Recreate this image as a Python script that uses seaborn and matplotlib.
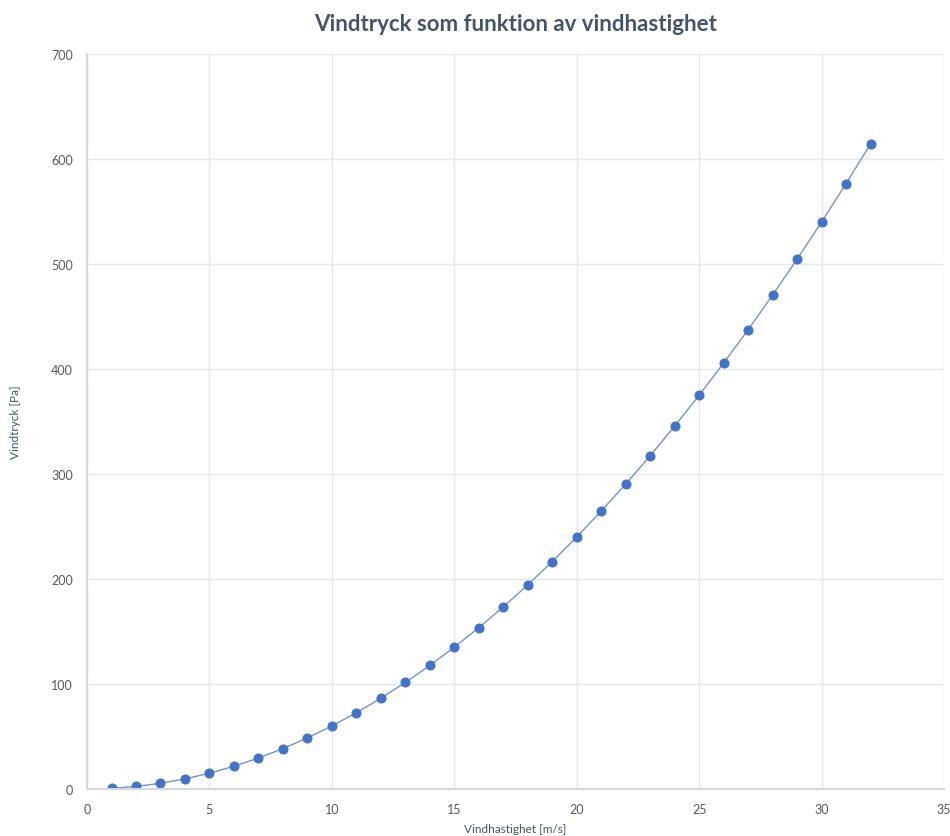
import matplotlib
matplotlib.use("Agg")
import matplotlib.pyplot as plt
import seaborn as sns

# vindhastighet [m/s] och vindtryck [Pa]
vind_hast = [1, 2, 3, 4, 5, 6, 7, 8, 9, 10, 11, 12, 13, 14, 15, 16,
             17, 18, 19, 20, 21, 22, 23, 24, 25, 26, 27, 28, 29, 30, 31, 32]
vind_tryck = [0.6, 2.4, 5.4, 9.6, 15, 21.6, 29.4, 38.4, 48.6, 60, 72.6, 86.4,
              101.4, 117.6, 135, 153.6, 173.4, 194.4, 216.6, 240, 264.6, 290.4,
              317.4, 345.6, 375, 405.6, 437.4, 470.4, 504.6, 540, 576.6, 614.4]

x_ticks = [0, 5, 10, 15, 20, 25, 30, 35]
y_ticks = [0, 100, 200, 300, 400, 500, 600, 700]

sns.set_theme(style="whitegrid")
plt.rcParams['font.family'] = ['Lato', 'DejaVu Sans']

fig = plt.figure(figsize=(9.5, 8.37), dpi=100)
ax = fig.add_axes([0.0916, 0.0562, 0.9021, 0.8781])

sns.lineplot(x=vind_hast, y=vind_tryck, ax=ax, color="#6f93d6", linewidth=1.0,
             marker="o", markersize=6.5, markerfacecolor="#4472c4",
             markeredgecolor="#4472c4")

ax.set_xlim(0, 35)
ax.set_ylim(0, 700)
ax.set_xticks(x_ticks)
ax.set_yticks(y_ticks)
ax.grid(True, color="#e4e8ef", linewidth=1.0)
for side in ["top", "right"]:
    ax.spines[side].set_visible(False)
for side in ["left", "bottom"]:
    ax.spines[side].set_color("#d3d9e3")
    ax.spines[side].set_linewidth(1.5)
ax.tick_params(axis="both", length=0, labelsize=9, labelcolor="#595959", pad=10)

ax.set_xlabel("Vindhastighet [m/s]", fontsize=8.5, color="#44546a", labelpad=6)
ax.set_ylabel("Vindtryck [Pa]", fontsize=8.5, color="#44546a", labelpad=22)
fig.suptitle("Vindtryck som funktion av vindhastighet", x=0.543, y=0.983,
             fontsize=16, fontweight="bold", color="#44546a")

fig.savefig("out.png", dpi=100)
